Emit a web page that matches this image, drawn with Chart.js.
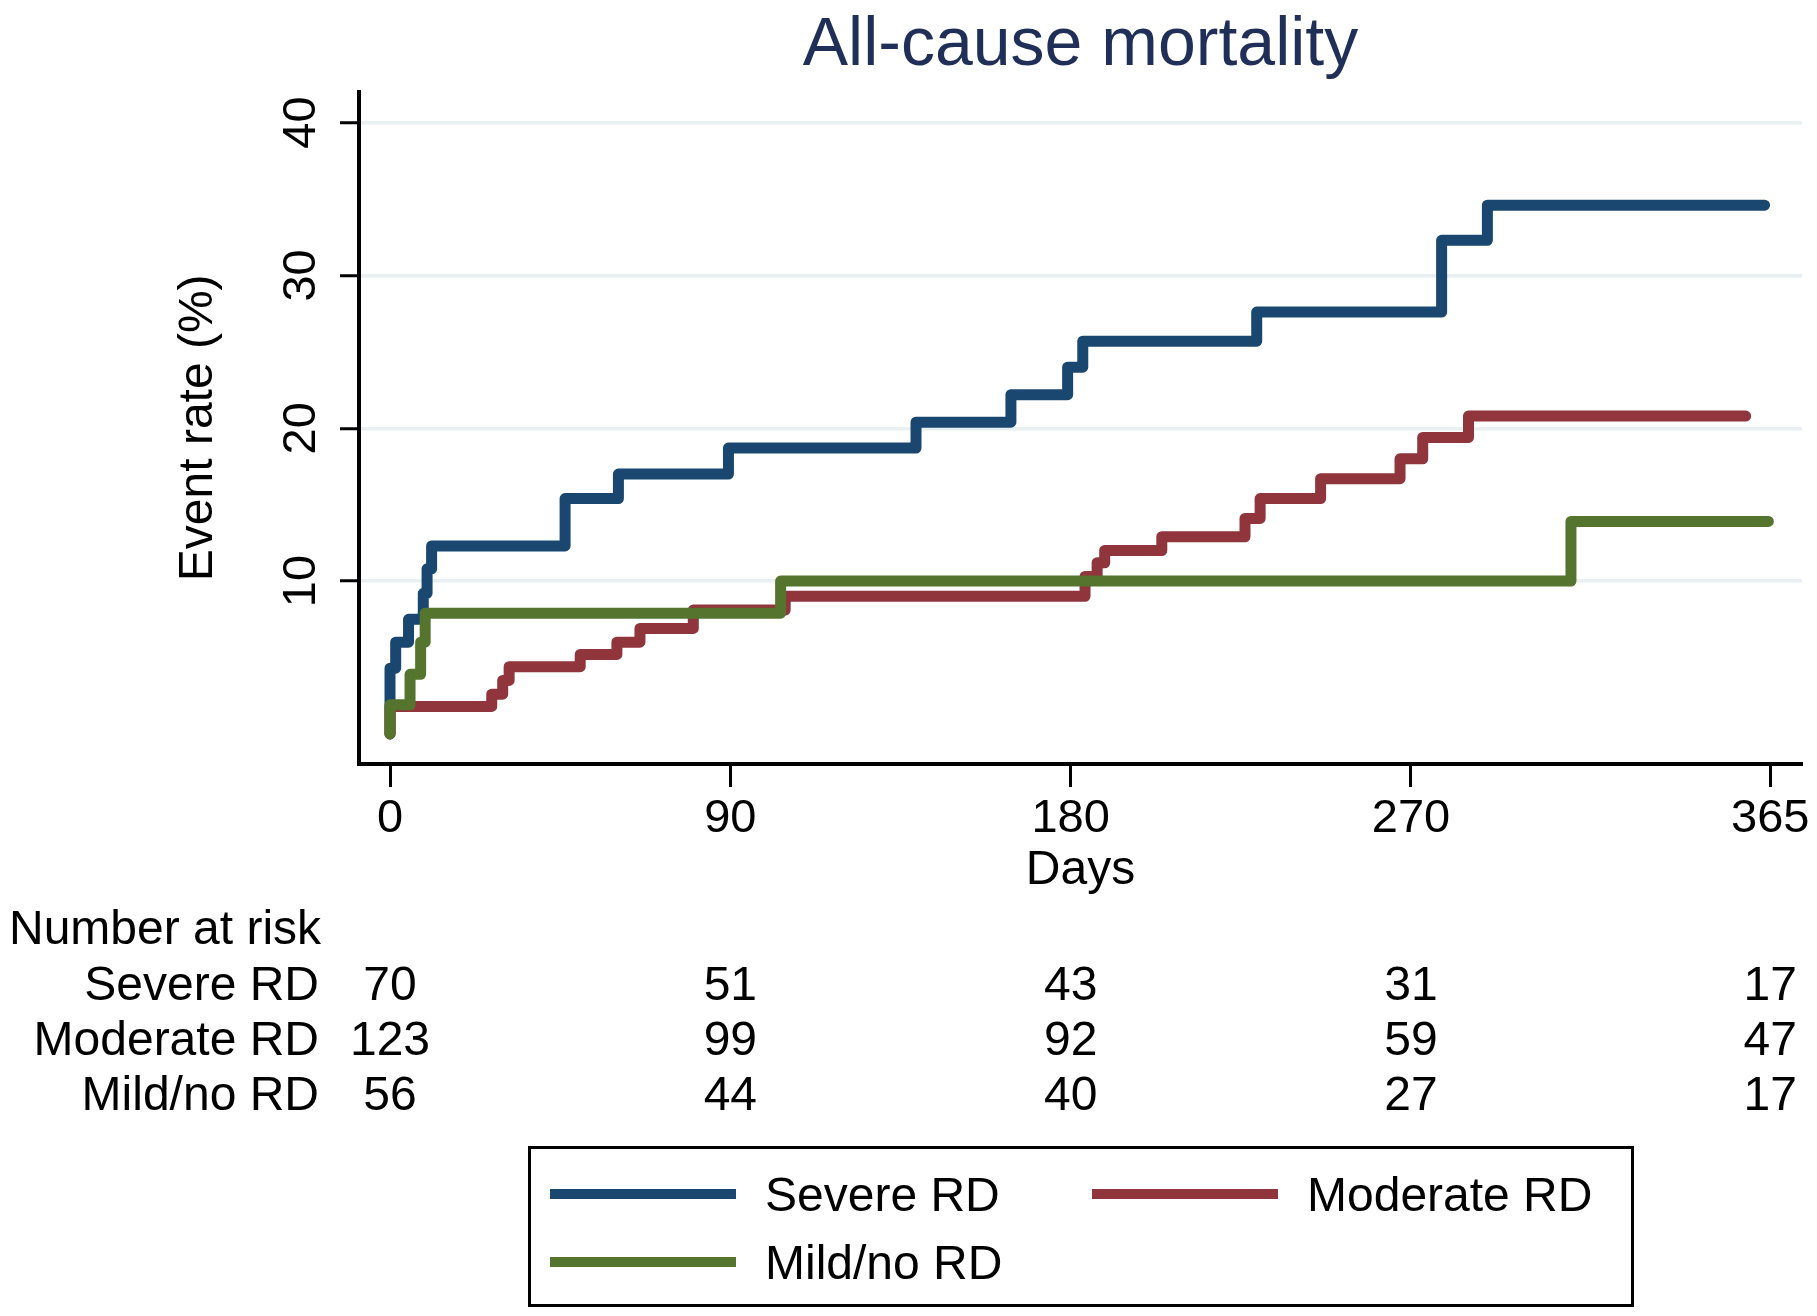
<!DOCTYPE html>
<html>
<head>
<meta charset="utf-8">
<title>All-cause mortality</title>
<script src="https://cdn.jsdelivr.net/npm/chart.js@4.4.1/dist/chart.umd.min.js"></script>
<style>
  html, body { margin: 0; padding: 0; background: #fff; }
  canvas { display: block; }
</style>
</head>
<body>
<canvas id="kmChart" width="1817" height="1316"></canvas>
<script>
// cumulative event rate (%) per group (day of step, value after step)
const severeDays = [0, 0, 1.5, 4.9, 8.8, 9.8, 11, 46.3, 60.4, 89.5, 139.1, 164.2, 179.2, 183.2, 229.2, 278.1, 290.2, 363.5];
const severeRate = [0, 4.3, 6.0, 7.5, 9.2, 10.8, 12.3, 15.4, 17.0, 18.7, 20.4, 22.2, 24.0, 25.7, 27.6, 32.3, 34.6, 34.6];

const moderateDays = [0, 0, 26.9, 29.8, 31.5, 50.3, 60, 66.1, 80.2, 104.5, 183.8, 187, 189, 204.1, 226.1, 230.1, 246.1, 267.1, 273.1, 285.2, 358.5];
const moderateRate = [0, 1.8, 2.6, 3.5, 4.4, 5.2, 6.0, 6.9, 8.1, 9.0, 10.3, 11.2, 12.0, 12.9, 14.1, 15.4, 16.7, 18.0, 19.4, 20.8, 20.8];

const mildDays = [0, 0, 5.3, 8.1, 9.3, 103.3, 312.3, 364.5];
const mildRate = [0, 1.9, 3.9, 6.0, 7.9, 10.0, 13.9, 13.9];

const xTicks = [0, 90, 180, 270, 365];
const yTicks = [10, 20, 30, 40];

// number at risk table
const groups = ['Severe RD', 'Moderate RD', 'Mild/no RD'];
const atRiskSevere = [70, 51, 43, 31, 17];
const atRiskModerate = [123, 99, 92, 59, 47];
const atRiskMild = [56, 44, 40, 27, 17];

const colors = ['#1a476f', '#90353b', '#55752f'];
const FAMILY = "'Liberation Sans', Arial, Helvetica, sans-serif";

function series(label, days, rate, color, order) {
    return {
        label: label,
        data: days.map((d, i) => ({ x: d, y: rate[i] })),
        borderColor: color,
        borderWidth: 11,
        stepped: 'before',
        pointRadius: 0,
        borderCapStyle: 'round',
        borderJoinStyle: 'round',
        fill: false,
        order: order
    };
}

// risk table + boxed legend under the axis
const riskTable = {
    id: 'riskTable',
    afterDraw(chart) {
        const ctx = chart.ctx;
        const xs = chart.scales.x;
        ctx.save();
        ctx.fillStyle = '#000';
        ctx.font = '48px ' + FAMILY;
        ctx.textBaseline = 'middle';
        ctx.textAlign = 'left';
        ctx.fillText('Number at risk', 9, 931);

        const rows = [atRiskSevere, atRiskModerate, atRiskMild];
        const rowY = [987, 1042, 1097];
        rows.forEach((row, i) => {
            ctx.textAlign = 'right';
            ctx.fillText(groups[i], 319, rowY[i]);
            ctx.textAlign = 'center';
            row.forEach((n, j) => {
                ctx.fillText(String(n), xs.getPixelForValue(xTicks[j]), rowY[i]);
            });
        });

        // legend
        ctx.lineWidth = 3;
        ctx.strokeStyle = '#000';
        ctx.strokeRect(529.5, 1147.5, 1103, 158);
        const spots = [[550, 1194], [1092, 1194], [550, 1262]];
        spots.forEach((p, i) => {
            ctx.fillStyle = colors[i];
            ctx.fillRect(p[0], p[1] - 5, 186, 10);
            ctx.fillStyle = '#000';
            ctx.textAlign = 'left';
            ctx.fillText(groups[i], p[0] + 215, p[1] + 4);
        });
        ctx.restore();
    }
};

const ctx = document.getElementById('kmChart').getContext('2d');
new Chart(ctx, {
    type: 'line',
    data: {
        datasets: [
            series('Severe RD', severeDays, severeRate, colors[0], 3),
            series('Moderate RD', moderateDays, moderateRate, colors[1], 2),
            series('Mild/no RD', mildDays, mildRate, colors[2], 1)
        ]
    },
    options: {
        responsive: false,
        devicePixelRatio: 1,
        animation: false,
        events: [],
        layout: { padding: { left: 0, right: 15, top: 0, bottom: 412 } },
        scales: {
            x: {
                type: 'linear',
                min: -8.2,
                max: 373.4,
                afterBuildTicks: s => { s.ticks = xTicks.map(v => ({ value: v })); },
                afterFit: s => { s.height = 140; },
                grid: { drawOnChartArea: false, tickLength: 23, tickWidth: 3, tickColor: '#000' },
                border: { color: '#000', width: 4 },
                ticks: {
                    color: '#000',
                    padding: 4,
                    maxRotation: 0,
                    autoSkip: false,
                    font: { family: FAMILY, size: 47 }
                },
                title: {
                    display: true,
                    text: 'Days',
                    color: '#000',
                    padding: { top: 0, bottom: 4 },
                    font: { family: FAMILY, size: 48 }
                }
            },
            y: {
                type: 'linear',
                min: -1.97,
                max: 42.03,
                afterBuildTicks: s => { s.ticks = yTicks.map(v => ({ value: v })); },
                afterFit: s => { s.width = 359; },
                grid: { color: '#e8f0f1', lineWidth: 3.5, tickLength: 19, tickWidth: 3, tickColor: '#000' },
                border: { color: '#000', width: 4 },
                ticks: {
                    color: '#000',
                    padding: 12,
                    minRotation: 90,
                    maxRotation: 90,
                    crossAlign: 'center',
                    font: { family: FAMILY, size: 47 }
                },
                title: {
                    display: true,
                    text: 'Event rate (%)',
                    color: '#000',
                    padding: { top: 170, bottom: 0 },
                    font: { family: FAMILY, size: 48 }
                }
            }
        },
        plugins: {
            legend: { display: false },
            tooltip: { enabled: false },
            title: {
                display: true,
                text: 'All-cause mortality',
                color: '#1f2f57',
                fullSize: false,
                padding: { top: 5, bottom: 5 },
                font: { family: FAMILY, size: 68, weight: 'normal' }
            }
        }
    },
    plugins: [riskTable]
});
</script>
</body>
</html>
